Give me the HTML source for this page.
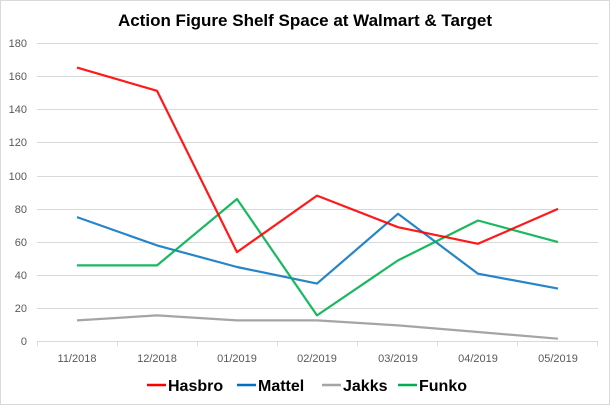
<!DOCTYPE html>
<html><head><style>
body{margin:0;background:#fff}
svg{display:block}
text{font-family:"Liberation Sans",sans-serif}
</style></head><body>
<svg width="610" height="405" viewBox="0 0 610 405">
<rect x="0.5" y="0.5" width="609" height="404" fill="#fff" stroke="#d9d9d9"/>
<text x="305" y="26" text-anchor="middle" font-size="17" font-weight="bold" fill="#000">Action Figure Shelf Space at Walmart &amp; Target</text>
<g stroke="#d9d9d9" stroke-width="1">
<line x1="37" x2="598" y1="43.5" y2="43.5"/>
<line x1="37" x2="598" y1="76.5" y2="76.5"/>
<line x1="37" x2="598" y1="109.5" y2="109.5"/>
<line x1="37" x2="598" y1="142.5" y2="142.5"/>
<line x1="37" x2="598" y1="176.5" y2="176.5"/>
<line x1="37" x2="598" y1="209.5" y2="209.5"/>
<line x1="37" x2="598" y1="242.5" y2="242.5"/>
<line x1="37" x2="598" y1="275.5" y2="275.5"/>
<line x1="37" x2="598" y1="308.5" y2="308.5"/>
<line x1="37" x2="598" y1="341.5" y2="341.5"/>
<line x1="37.5" x2="37.5" y1="341" y2="346"/>
<line x1="117.5" x2="117.5" y1="341" y2="346"/>
<line x1="197.5" x2="197.5" y1="341" y2="346"/>
<line x1="277.5" x2="277.5" y1="341" y2="346"/>
<line x1="357.5" x2="357.5" y1="341" y2="346"/>
<line x1="437.5" x2="437.5" y1="341" y2="346"/>
<line x1="517.5" x2="517.5" y1="341" y2="346"/>
<line x1="597.5" x2="597.5" y1="341" y2="346"/>
</g>
<g font-size="11" fill="#595959" text-anchor="end">
<text x="27" y="47">180</text><text x="27" y="80">160</text><text x="27" y="113">140</text>
<text x="27" y="146">120</text><text x="27" y="180">100</text><text x="27" y="213">80</text>
<text x="27" y="246">60</text><text x="27" y="279">40</text><text x="27" y="312">20</text>
<text x="27" y="345">0</text>
</g>
<g font-size="11" fill="#595959" text-anchor="middle">
<text x="77" y="362">11/2018</text><text x="157" y="362">12/2018</text><text x="237" y="362">01/2019</text>
<text x="317" y="362">02/2019</text><text x="398" y="362">03/2019</text><text x="478" y="362">04/2019</text>
<text x="558" y="362">05/2019</text>
</g>
<g fill="none" stroke-width="2.2" stroke-linejoin="round">
<polyline stroke="#a5a5a5" points="77,320.4 157,315.4 237,320.4 317,320.4 398,325.4 478,332 558,338.7"/>
<polyline stroke="#0070c0" stroke-opacity="0.85" points="77,217.1 157,245.4 237,267 317,283.6 398,213.8 478,273.7 558,288.6"/>
<polyline stroke="#00b050" stroke-opacity="0.9" points="77,265.4 157,265.4 237,199 317,315.4 398,260.4 478,220.5 558,242.1"/>
<polyline stroke="#ff0000" stroke-opacity="0.9" points="77,67.6 157,90.8 237,252.1 317,195.6 398,227.2 478,243.8 558,208.9"/>
</g>
<g font-size="16" font-weight="bold" fill="#000">
<line x1="147" x2="166" y1="385" y2="385" stroke="#ff0000" stroke-width="2.5"/><text x="168" y="391">Hasbro</text>
<line x1="237" x2="256" y1="385" y2="385" stroke="#0070c0" stroke-width="2.5"/><text x="258" y="391">Mattel</text>
<line x1="322" x2="341" y1="385" y2="385" stroke="#a5a5a5" stroke-width="2.5"/><text x="343" y="391">Jakks</text>
<line x1="398" x2="417" y1="385" y2="385" stroke="#00b050" stroke-width="2.5"/><text x="419" y="391">Funko</text>
</g>
</svg>
</body></html>
